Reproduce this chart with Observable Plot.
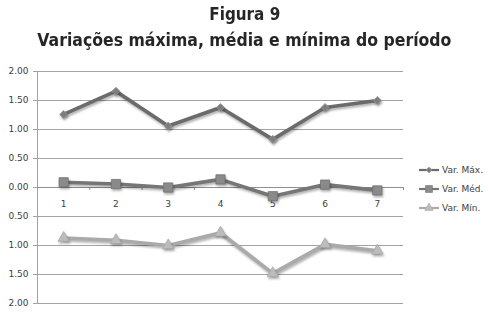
<!DOCTYPE html>
<html><head><meta charset="utf-8">
<script src="https://cdn.jsdelivr.net/npm/d3@7"></script>
<script src="https://cdn.jsdelivr.net/npm/@observablehq/plot@0.6"></script>
<style>
body{margin:0;background:#fff;}
#wrap{position:relative;width:489px;height:315px;overflow:hidden;background:#fff;}
.t{position:absolute;left:0;width:489px;text-align:center;font-family:"Liberation Sans Narrow","DejaVu Sans Condensed","Roboto",sans-serif;font-weight:bold;font-size:18px;color:#262626;white-space:nowrap;line-height:20px;}
.t span{display:inline-block;transform-origin:center;}
#chart{position:absolute;left:0;top:55px;}
#legend{position:absolute;left:418px;top:0;width:71px;height:315px;font-family:"DejaVu Sans",sans-serif;font-size:9px;color:#404040;}
.row{position:absolute;left:0;height:12px;display:flex;align-items:center;white-space:nowrap;}
.row svg{margin-right:2px;}
</style></head><body>
<div id="wrap">
<div class="t" style="top:4px"><span id="t1">Figura 9</span></div>
<div class="t" style="top:30px"><span id="t2">Variações máxima, média e mínima do período</span></div>
<div id="chart"></div>
<div id="legend"></div>
</div>
<script>
const periods = [1, 2, 3, 4, 5, 6, 7];
const varMax = [1.26, 1.66, 1.06, 1.38, 0.83, 1.38, 1.50];
const varMed = [0.09, 0.06, 0.00, 0.14, -0.15, 0.05, -0.05];
const varMin = [-0.87, -0.91, -1.00, -0.78, -1.48, -0.98, -1.09];
const seriesNames = ["Var. Máx.", "Var. Méd.", "Var. Mín."];
const yTicks = [-2, -1.5, -1, -0.5, 0, 0.5, 1, 1.5, 2];

// fit titles to the reference widths
function fit(id, target) {
  const el = document.getElementById(id);
  const w = el.getBoundingClientRect().width;
  el.style.transform = `scaleX(${target / w})`;
}
fit("t1", 71);
fit("t2", 414);

const styles = [
  {line: "#6b6b6b", fill: "#7d7d7d", stroke: "#959595", symbol: "diamond2", r: 3.6},
  {line: "#767676", fill: "#8a8a8a", stroke: "#727272", symbol: "square", r: 5.2},
  {line: "#aaaaaa", fill: "#bcbcbc", stroke: "#a8a8a8", symbol: "triangle", r: 4.2}
];
const allSeries = [varMax, varMed, varMin];
const data = allSeries.flatMap((vals, s) => periods.map((p, i) => ({series: seriesNames[s], s, period: p, value: vals[i]})));
const boundaries = d3.range(0.5, 7.6, 1);

const marks = [
  Plot.ruleY(yTicks, {x1: 0.5, x2: 7.5, stroke: "#a3a3a3", strokeWidth: 1, insetLeft: -4}),
  Plot.ruleX([0.5], {y1: -2, y2: 2, stroke: "#a3a3a3"}),
  Plot.ruleY([0], {x1: 0.5, x2: 7.5, stroke: "#8f8f8f"}),
  Plot.ruleX(boundaries.slice(1), {y1: 0, y2: 0, stroke: "#8f8f8f", insetBottom: -3}),
  Plot.axisY({ticks: yTicks, label: null, tickSize: 0, tickPadding: 9, tickFormat: d => Math.abs(d).toFixed(2), fontSize: 9, fontFamily: "DejaVu Sans", fill: "#404040"}),
  Plot.text(periods, {x: d => d, y: 0, dy: 17, text: d => String(d), fontSize: 9, fontFamily: "DejaVu Sans", fill: "#404040"})
];
styles.forEach((st, s) => {
  const d = data.filter(r => r.s === s);
  marks.push(Plot.line(d, {x: "period", y: "value", stroke: st.line, strokeWidth: 3.6, className: "sline"}));
  marks.push(Plot.dot(d, {x: "period", y: "value", symbol: st.symbol, r: st.r, fill: st.fill, stroke: st.stroke, strokeWidth: 0.8, className: "sdot"}));
});

const chart = Plot.plot({
  width: 489,
  height: 260,
  marginTop: 16,
  marginBottom: 12,
  marginLeft: 37,
  marginRight: 86,
  x: {type: "linear", domain: [0.5, 7.5], axis: null},
  y: {domain: [-2, 2], axis: null},
  style: {background: "transparent", fontFamily: "DejaVu Sans"},
  marks
});
chart.querySelectorAll('g[aria-label="line"], g[aria-label="dot"]').forEach(g => {
  g.style.filter = "drop-shadow(1px 2px 1.2px rgba(0,0,0,0.3))";
});
document.getElementById("chart").appendChild(chart);

// legend
const legend = document.getElementById("legend");
const rowsY = [169.5, 188.5, 208];
seriesNames.forEach((name, s) => {
  const st = styles[s];
  const row = document.createElement("div");
  row.className = "row";
  row.style.top = (rowsY[s] - 6) + "px";
  const svg = d3.create("svg").attr("width", 22).attr("height", 12);
  svg.append("line").attr("x1", 1).attr("x2", 21).attr("y1", 6).attr("y2", 6).attr("stroke", st.line).attr("stroke-width", 2.2);
  const sym = {diamond2: d3.symbolDiamond2, square: d3.symbolSquare, triangle: d3.symbolTriangle}[st.symbol];
  svg.append("path").attr("transform", "translate(11,6)").attr("d", d3.symbol(sym, Math.PI * (st.r * 0.75) ** 2)()).attr("fill", st.fill).attr("stroke", st.stroke).attr("stroke-width", 0.6);
  row.appendChild(svg.node());
  const span = document.createElement("span");
  span.textContent = name;
  row.appendChild(span);
  legend.appendChild(row);
});
</script>
</body></html>
